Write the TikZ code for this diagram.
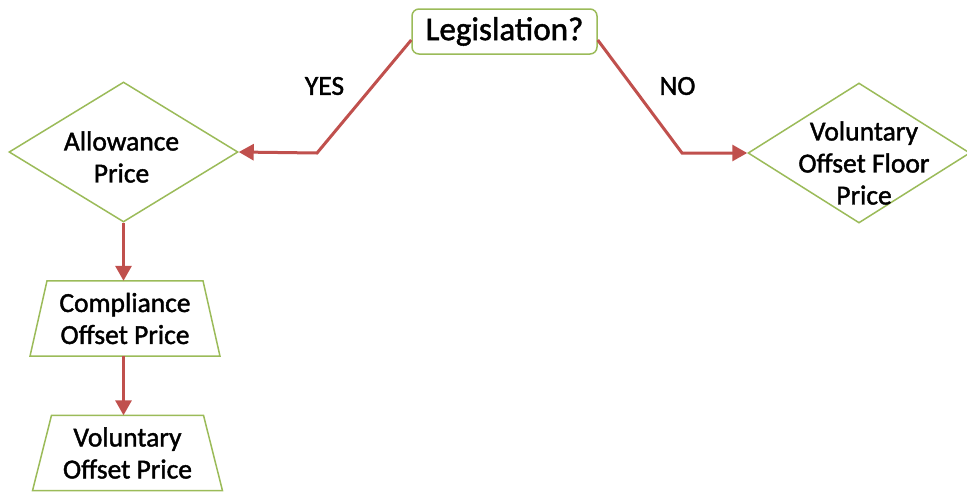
\documentclass[tikz,border=0pt]{standalone}
\usepackage{fontspec}
\setmainfont{Carlito}[FakeBold=1.5]
\usetikzlibrary{shapes.geometric,arrows.meta}
\definecolor{bordergreen}{HTML}{9BBB59}
\definecolor{arrowred}{HTML}{C0504D}
\tikzset{
  edge/.style={draw=bordergreen, line width=1.5pt},
  box/.style={edge, fill=white},
  dia/.style={box, diamond, inner sep=0pt, minimum width=229pt, minimum height=140pt},
  traptxt/.style={txt, minimum height=75pt},
  txt/.style={align=center, font=\fontsize{27.5}{32}\selectfont, inner sep=0pt},
  arr/.style={draw=arrowred, line width=3pt, -{Triangle[length=15pt,width=16pt]}},
}
\begin{document}
\begin{tikzpicture}[x=1pt,y=-1pt]
\useasboundingbox (0,0) rectangle (967,493);
\node[box, rounded corners=7pt, minimum width=185pt, minimum height=45pt, inner sep=0pt,
  font=\fontsize{33}{36}\selectfont] (leg) at (504.5,31.5) {Legislation?};
\node[dia] (al) at (123.5,152) {};
\node[txt] (alt) at (121.5,157) {Allowance\\Price};
\node[dia, minimum width=222pt] (fl) at (859,153) {};
\node[txt] (flt) at (864,163) {Voluntary\\Offset Floor\\Price};
\node[traptxt] (cp) at (125,318.5) {Compliance\\Offset Price};
\draw[edge] ([xshift=-78pt]cp.north) -- ([xshift=78pt]cp.north) -- ([xshift=95pt]cp.south)
  -- ([xshift=-95pt]cp.south) -- cycle;
\node[traptxt] (vo) at (127.5,453) {Voluntary\\Offset Price};
\draw[edge] ([xshift=-76pt]vo.north) -- ([xshift=76pt]vo.north) -- ([xshift=95pt]vo.south)
  -- ([xshift=-95pt]vo.south) -- cycle;
\node[txt] (yes) at (324.5,86) {YES};
\node[txt] (no) at (677.5,86) {NO};
\draw[arr] ([yshift=-8.5pt]leg.west) -- (317,153) -- (al.east);
\draw[arr] ([yshift=-8.5pt]leg.east) -- (682,153) -- (fl.west);
\draw[arr] (al.south) -- (cp.north -| al.south);
\draw[arr] (cp.south -| al.south) -- (vo.north -| al.south);
\end{tikzpicture}
\end{document}
